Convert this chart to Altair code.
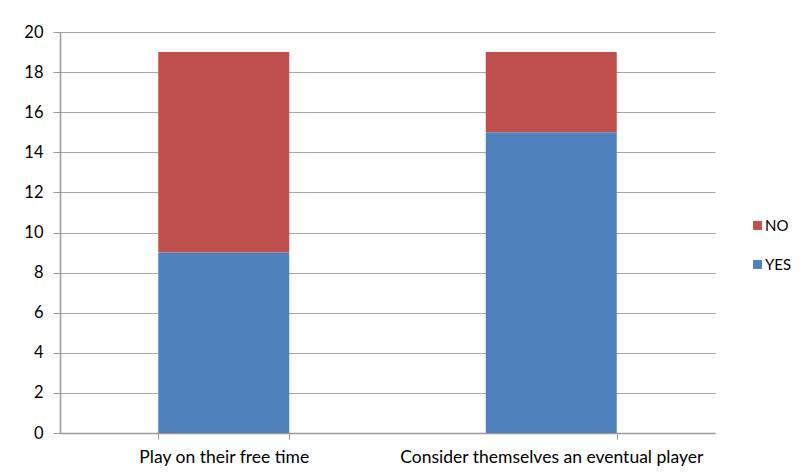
import altair as alt
import pandas as pd

categories = ["Play on their free time", "Consider themselves an eventual player"]
yes_values = [9, 15]
no_values = [10, 4]
series = ["NO", "YES"]
colors = ["#C0504D", "#4F81BD"]

rows = []
for c, y, n in zip(categories, yes_values, no_values):
    rows.append({"cat": c, "answer": "YES", "value": y, "ord": 0})
    rows.append({"cat": c, "answer": "NO", "value": n, "ord": 1})
df = pd.DataFrame(rows)

FONT = "Lato"

chart = alt.Chart(df).mark_bar().encode(
    x=alt.X("cat:N", sort=categories, title=None,
            scale=alt.Scale(paddingInner=0.6, paddingOuter=0.3),
            axis=alt.Axis(labelAngle=0, tickBand="extent", tickSize=6, labelPadding=9,
                          labelLimit=0,
                          domainColor="#999999", tickColor="#999999", grid=False,
                          labelFont=FONT, labelFontSize=17.5, labelColor="#000000")),
    y=alt.Y("value:Q", title=None, stack="zero",
            scale=alt.Scale(domain=[0, 20], nice=False),
            axis=alt.Axis(values=list(range(0, 21, 2)), tickSize=7, labelPadding=10,
                          domainColor="#999999", tickColor="#999999", gridColor="#A6A6A6",
                          labelFont=FONT, labelFontSize=16.5, labelColor="#000000")),
    color=alt.Color("answer:N", scale=alt.Scale(domain=series, range=colors),
                    legend=alt.Legend(title=None, orient="none", legendX=690, legendY=186,
                                      symbolType="square", symbolSize=80, symbolStrokeWidth=0,
                                      rowPadding=23, labelFont=FONT, labelFontSize=15,
                                      labelColor="#000000", labelOffset=0, labelLimit=0)),
    order=alt.Order("ord:Q"),
).properties(
    width=655, height=401,
    autosize=alt.AutoSizeParams(type="none"),
    padding={"left": 52, "top": 24, "right": 76, "bottom": 36},
).configure_view(stroke=None).configure_axis(domainWidth=1.5, gridWidth=1.2)

chart.save("out.html", embed_options={"renderer": "svg", "actions": False})
